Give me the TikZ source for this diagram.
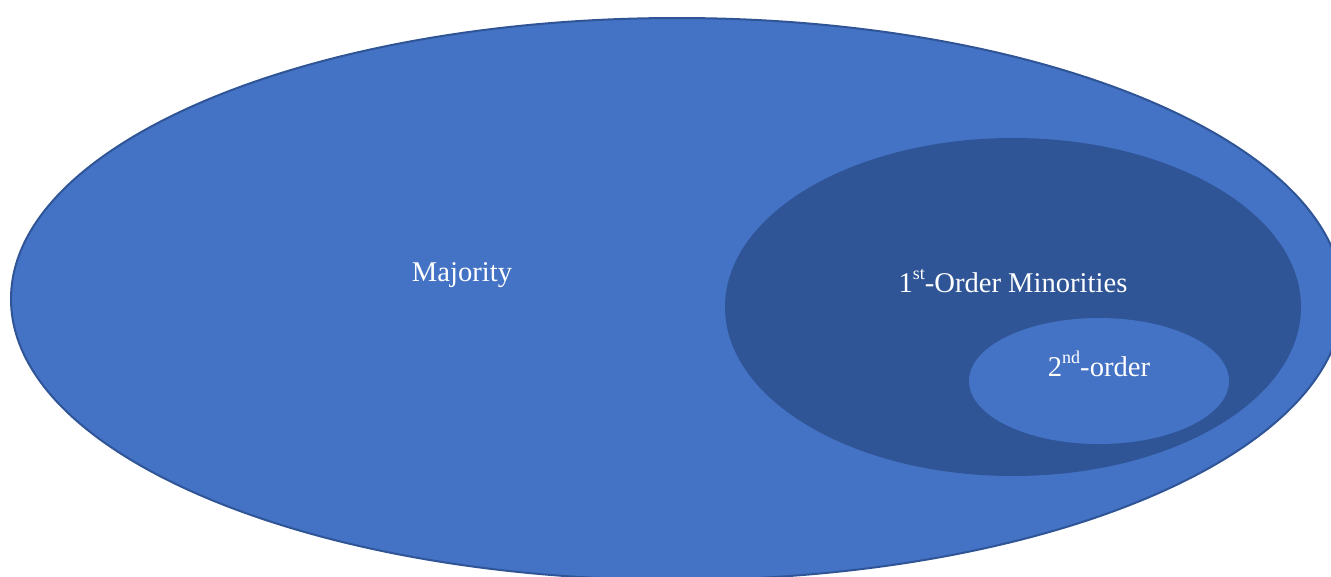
\documentclass[tikz,border=0pt]{standalone}
\usepackage{fontspec}
\setmainfont{Liberation Serif}
\definecolor{midblue}{HTML}{4472C4}
\definecolor{darkblue}{HTML}{2F5597}
\tikzset{
  lbl/.style={text=white, font=\fontsize{28.6}{32}\selectfont, inner sep=0pt},
}
\newcommand{\supr}[1]{\raisebox{0.45em}{\fontsize{18}{20}\selectfont #1}}
\begin{document}
\begin{tikzpicture}[x=1pt,y=-1pt]
\useasboundingbox (0,0) rectangle (1331,576);
\begin{scope}
\clip (0,0) rectangle (1331,576);
\fill[midblue, draw=darkblue, line width=2pt] (677,299) ellipse [x radius=666, y radius=281];
\fill[darkblue] (1013,307) ellipse [x radius=288, y radius=169];
\fill[midblue] (1099,381) ellipse [x radius=130, y radius=63];
\end{scope}
\node[lbl] (maj) at (462,275) {Majority};
\node[lbl] (first) at (1013,281) {1\supr{st}-Order Minorities};
\node[lbl] (second) at (1099,364) {2\supr{nd}-order};
\end{tikzpicture}
\end{document}
